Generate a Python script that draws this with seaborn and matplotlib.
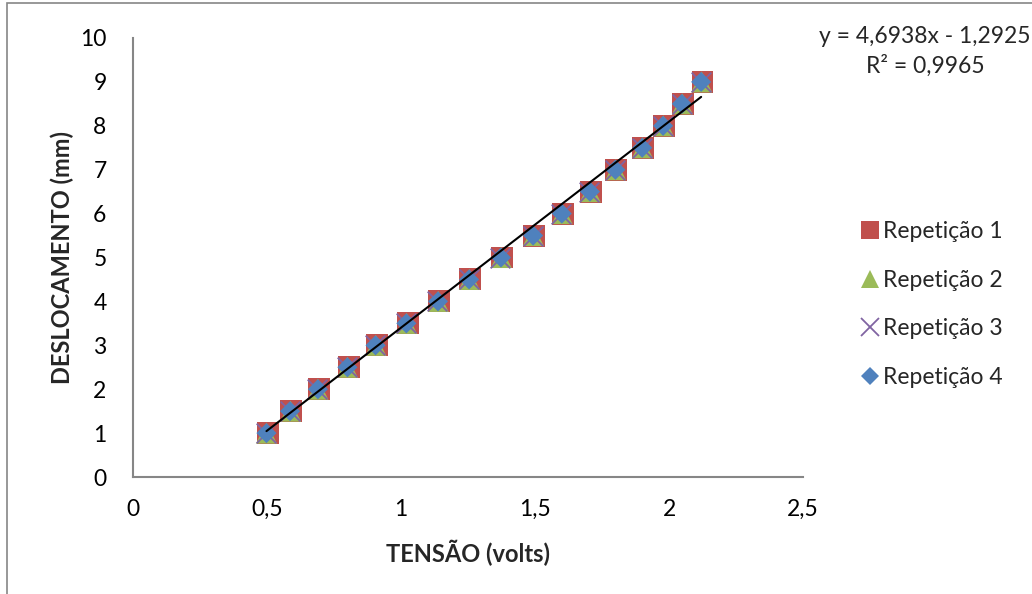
import numpy as np
import pandas as pd
import matplotlib
matplotlib.use("Agg")
import matplotlib.pyplot as plt
from matplotlib.patches import Rectangle
from matplotlib.ticker import FuncFormatter, MultipleLocator
import seaborn as sns

# Displacement steps (mm) and measured voltage (V) for each repetition
deslocamento = [1, 1.5, 2, 2.5, 3, 3.5, 4, 4.5, 5, 5.5, 6, 6.5, 7, 7.5, 8, 8.5, 9]
tensao_rep1 = [0.503, 0.590, 0.695, 0.805, 0.910, 1.025, 1.142, 1.258, 1.377,
               1.497, 1.604, 1.708, 1.804, 1.903, 1.982, 2.053, 2.125]
tensao_rep2 = [0.498, 0.588, 0.690, 0.800, 0.906, 1.021, 1.139, 1.255, 1.374,
               1.494, 1.601, 1.706, 1.801, 1.901, 1.979, 2.050, 2.122]
tensao_rep3 = [0.495, 0.584, 0.688, 0.798, 0.903, 1.018, 1.136, 1.252, 1.371,
               1.491, 1.598, 1.703, 1.798, 1.898, 1.976, 2.047, 2.118]
tensao_rep4 = [0.498, 0.586, 0.690, 0.800, 0.905, 1.020, 1.138, 1.254, 1.373,
               1.493, 1.600, 1.705, 1.800, 1.900, 1.978, 2.048, 2.120]
series_names = ["Repetição 1", "Repetição 2", "Repetição 3", "Repetição 4"]

# Linear trend coefficients
slope = 4.6938
intercept = -1.2925
r2 = 0.9965

sns.set_theme(style="white")
plt.rcParams["font.family"] = ["Lato", "DejaVu Sans"]

FS = 16.5
W, H = 1032, 594
fig = plt.figure(figsize=(W / 100, H / 100), dpi=100)
ax = fig.add_axes([133 / W, 1 - 477 / H, (803 - 133) / W, (477 - 38) / H])

frames = []
for name, tens in zip(series_names, [tensao_rep1, tensao_rep2, tensao_rep3, tensao_rep4]):
    frames.append(pd.DataFrame({"tensao": tens, "deslocamento": deslocamento, "serie": name}))
df = pd.concat(frames, ignore_index=True)

colors = {"Repetição 1": "#C0504D", "Repetição 2": "#9BBB59",
          "Repetição 3": "#8064A2", "Repetição 4": "#4F81BD"}
markers = {"Repetição 1": "s", "Repetição 2": "^", "Repetição 3": "x", "Repetição 4": "D"}
sizes = {"Repetição 1": 250, "Repetição 2": 230, "Repetição 3": 200, "Repetição 4": 105}

handles = []
for name in series_names:
    sub = df[df["serie"] == name]
    kw = dict(color=colors[name], marker=markers[name], s=sizes[name], zorder=3)
    if markers[name] == "x":
        kw.update(linewidth=1.3)
    else:
        kw.update(edgecolor="none", linewidth=0)
    sns.scatterplot(data=sub, x="tensao", y="deslocamento", ax=ax, legend=False, **kw)
    handles.append(plt.Line2D([], [], linestyle="none", marker=markers[name],
                              color=colors[name], markersize=13 if markers[name] != "D" else 9.5,
                              markeredgewidth=1.3 if markers[name] == "x" else 0))

# Trend line over the measured voltage range
xs = np.array([min(tensao_rep4), max(tensao_rep4)])
sns.lineplot(x=xs, y=slope * xs + intercept, ax=ax, color="black", linewidth=1.5, zorder=4)

ax.set_xlim(0, 2.5)
ax.set_ylim(0, 10)
ax.xaxis.set_major_locator(MultipleLocator(0.5))
ax.yaxis.set_major_locator(MultipleLocator(1))
fmt = FuncFormatter(lambda v, p: (f"{v:g}").replace(".", ","))
ax.xaxis.set_major_formatter(fmt)
ax.yaxis.set_major_formatter(fmt)
ax.tick_params(axis="both", length=0, labelsize=FS, colors="black")
ax.tick_params(axis="y", pad=19)
ax.tick_params(axis="x", pad=16)

for side in ["top", "right"]:
    ax.spines[side].set_visible(False)
for side in ["left", "bottom"]:
    ax.spines[side].set_color("#868686")
    ax.spines[side].set_linewidth(1.5)
ax.grid(False)

ax.set_xlabel("")
ax.set_ylabel("")
fig.text(468 / W, 1 - 553 / H, "TENSÃO (volts)", ha="center", va="center",
         fontsize=17, fontweight="bold")
fig.text(62 / W, 1 - 258 / H, "DESLOCAMENTO (mm)", ha="center", va="center",
         rotation=90, fontsize=17, fontweight="bold")

# Trend equation
fig.text(925 / W, 1 - 51.5 / H,
         f"y = {slope:.4f}x - {abs(intercept):.4f}".replace(".", ",") + "\n"
         + f"R² = {r2:.4f}".replace(".", ","),
         ha="center", va="center", fontsize=FS, linespacing=1.4)

leg = ax.legend(handles, series_names, loc="center left",
                bbox_to_anchor=(860 / W, 1 - 304.5 / H), bbox_transform=fig.transFigure,
                frameon=False, fontsize=FS, handlelength=0.85, handletextpad=0.15,
                labelspacing=1.22, borderpad=0, borderaxespad=0)

# Outer chart frame
fig.patches.append(Rectangle((7 / W, -0.5), 2, 0.5 + 1 - 3 / H, fill=False,
                             edgecolor="#868686", linewidth=1.2,
                             transform=fig.transFigure, figure=fig))

fig.savefig("out.png", dpi=100)
